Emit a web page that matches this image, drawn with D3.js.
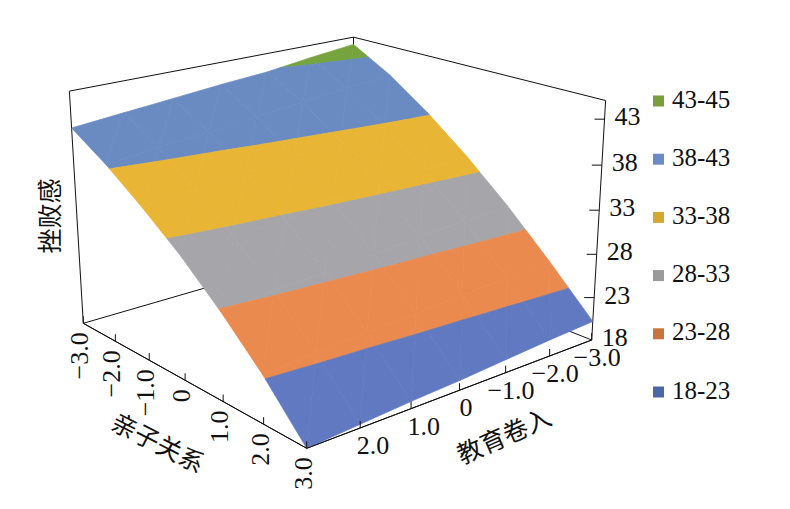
<!DOCTYPE html>
<html>
<head>
<meta charset="utf-8">
<script src="https://cdn.jsdelivr.net/npm/d3@7"></script>
<style>
  body { margin: 0; background: #fff; }
  text { font-family: "Liberation Serif", serif; fill: #111; }
  .cjk { font-family: "Noto Sans CJK SC", sans-serif; }
</style>
</head>
<body>
<script>
const width = 790;
const height = 509;

// axis values
const uTicks = [-3, -2, -1, 0, 1, 2, 3];
const vTicks = [-3, -2, -1, 0, 1, 2, 3];
const zTicks = [18, 23, 28, 33, 38, 43];

// surface values, rows follow vTicks, columns follow uTicks
const row1 = [44.1, 41.5, 38.2, 34.4, 30.1, 25.3, 20.2];
const row2 = [43.5, 41.0, 37.8, 34.0, 29.8, 25.0, 19.9];
const row3 = [42.8, 40.5, 37.3, 33.6, 29.4, 24.7, 19.5];
const row4 = [42.4, 40.0, 36.8, 33.2, 29.1, 24.4, 19.1];
const row5 = [41.9, 39.4, 36.3, 32.7, 28.7, 24.0, 18.8];
const row6 = [41.4, 38.9, 35.8, 32.3, 28.3, 23.7, 18.4];
const row7 = [40.9, 38.3, 35.2, 31.8, 27.8, 23.3, 18.0];
const surface = [row1, row2, row3, row4, row5, row6, row7];

// bands, top of the legend first
const bandLabels = ['43-45', '38-43', '33-38', '28-33', '23-28', '18-23'];
const bandLow = [43, 38, 33, 28, 23, 18];
const bandHigh = [45, 43, 38, 33, 28, 23];
const bandColors = ['#76a33e', '#6a8ac2', '#e8b535', '#a6a5a9', '#ea8a4f', '#6079c0'];
const legendColors = ['#7a9e3a', '#6a8bc6', '#d6a72f', '#9b9b9b', '#c9743a', '#4c68ad'];

// data to unit cube
const uScale = d3.scaleLinear().domain([3, -3]).range([0, 1]);
const vScale = d3.scaleLinear().domain([3, -3]).range([0, 1]);
const zScale = d3.scaleLinear().domain([18, 45]).range([0, 1]);

// box corners on the page, used to set up the perspective
const F = [306.7, 448.3], L = [83.3, 323.3], R = [591.7, 340], B = [353, 245];
const TL = [69.3, 90], TR = [605.7, 101.7];

const sx = F[0] - L[0] + B[0] - R[0], sy = F[1] - L[1] + B[1] - R[1];
const dx1 = L[0] - B[0], dx2 = R[0] - B[0], dy1 = L[1] - B[1], dy2 = R[1] - B[1];
const det = dx1 * dy2 - dx2 * dy1;
const gx = (sx * dy2 - dx2 * sy) / det;
const gy = (dx1 * sy - sx * dy1) / det;
const gz = -0.061;

const xVec = [L[0] * (1 + gx) - F[0], L[1] * (1 + gx) - F[1]];
const yVec = [R[0] * (1 + gy) - F[0], R[1] * (1 + gy) - F[1]];
const zVec = [0, 1].map(i => (
    TL[i] * (1 + gx + gz) - L[i] * (1 + gx) + TR[i] * (1 + gy + gz) - R[i] * (1 + gy)
) / 2);

function project(u, v, z) {
    const x = uScale(u), y = vScale(v), h = zScale(z);
    const w = 1 + gx * x + gy * y + gz * h;
    return [0, 1].map(i => (F[i] + x * xVec[i] + y * yVec[i] + h * zVec[i]) / w);
}

const svg = d3.select('body').append('svg')
    .attr('width', width)
    .attr('height', height);

const line = d3.line();

// Box edges behind the surface
const edges = [
    [[-3, 3, 18], [-3, 3, 45]],
    [[-3, 3, 45], [-3, -3, 45]],
    [[-3, -3, 45], [3, -3, 45]],
    [[3, -3, 45], [3, -3, 18]],
    [[-3, 3, 18], [-3, -3, 18]],
    [[3, -3, 18], [-3, -3, 18]],
    [[-3, -3, 18], [-3, -3, 45]],
    [[-3, 3, 18], [3, 3, 18]],
    [[3, 3, 18], [3, -3, 18]]
];
svg.append('g').selectAll('path')
    .data(edges)
    .enter().append('path')
    .attr('d', d => line(d.map(p => project(...p))))
    .attr('fill', 'none')
    .attr('stroke', '#111')
    .attr('stroke-width', 1);

// Keep only the part of a polygon on one side of a height
function clipAt(poly, level, sign) {
    const out = [];
    poly.forEach((p, i) => {
        const q = poly[(i + 1) % poly.length];
        const pIn = sign * (p[2] - level) >= 0;
        const qIn = sign * (q[2] - level) >= 0;
        if (pIn) out.push(p);
        if (pIn !== qIn) {
            const t = (level - p[2]) / (q[2] - p[2]);
            out.push([p[0] + t * (q[0] - p[0]), p[1] + t * (q[1] - p[1]), level]);
        }
    });
    return out;
}

// Surface cells cut into colour bands
const surfaceGroup = svg.append('g');
bandLabels.forEach((label, b) => {
    const pieces = [];
    d3.range(vTicks.length - 1).forEach(r => {
        d3.range(uTicks.length - 1).forEach(c => {
            const p00 = [uTicks[c], vTicks[r], surface[r][c]];
            const p10 = [uTicks[c + 1], vTicks[r], surface[r][c + 1]];
            const p01 = [uTicks[c], vTicks[r + 1], surface[r + 1][c]];
            const p11 = [uTicks[c + 1], vTicks[r + 1], surface[r + 1][c + 1]];
            [[p00, p10, p11], [p00, p11, p01]].forEach(tri => {
                const cut = clipAt(clipAt(tri, bandLow[b], 1), bandHigh[b], -1);
                if (cut.length > 2) pieces.push(cut);
            });
        });
    });
    surfaceGroup.append('g').selectAll('path')
        .data(pieces)
        .enter().append('path')
        .attr('d', d => line(d.map(p => project(...p))) + 'Z')
        .attr('fill', bandColors[b])
        .attr('stroke', bandColors[b])
        .attr('stroke-width', 0.7)
        .attr('stroke-linejoin', 'round');
});

// Front edges again, over the surface
svg.append('g').selectAll('path')
    .data(edges.slice(7))
    .enter().append('path')
    .attr('d', d => line(d.map(p => project(...p))))
    .attr('fill', 'none')
    .attr('stroke', '#111')
    .attr('stroke-width', 1);

const tickFormat = d => (d === 0 ? '0' : d3.format('.1f')(d).replace('-', '\u2212'));

// 亲子关系 axis
const uAxis = svg.append('g');
uTicks.forEach(d => {
    const [x, y] = project(d, 3, 18);
    uAxis.append('line')
        .attr('x1', x).attr('x2', x)
        .attr('y1', y).attr('y2', y - 7)
        .attr('stroke', '#111');
    uAxis.append('text')
        .attr('transform', `translate(${x + 5},${y + 9}) rotate(-90)`)
        .attr('text-anchor', 'end')
        .attr('font-size', '26px')
        .text(tickFormat(d));
});

// 教育卷入 axis
const vAxis = svg.append('g');
vTicks.filter(d => d < 3).forEach(d => {
    const [x, y] = project(3, d, 18);
    vAxis.append('line')
        .attr('x1', x).attr('x2', x)
        .attr('y1', y).attr('y2', y - 7)
        .attr('stroke', '#111');
    vAxis.append('text')
        .attr('x', x + (d === 0 ? 13 : 29))
        .attr('y', y + 26)
        .attr('text-anchor', 'end')
        .attr('font-size', '26px')
        .text(tickFormat(d));
});

// 挫败感 axis
const zAxis = svg.append('g');
zTicks.forEach(d => {
    const [x, y] = project(3, -3, d);
    if (d > 18) {
        zAxis.append('line')
            .attr('x1', x - 10).attr('x2', x)
            .attr('y1', y).attr('y2', y)
            .attr('stroke', '#111');
    }
    zAxis.append('text')
        .attr('x', x + 10)
        .attr('y', y + 6)
        .attr('font-size', '26px')
        .text(d);
});

// Axis titles
svg.append('text')
    .attr('class', 'cjk')
    .attr('transform', 'translate(157,445) rotate(27)')
    .attr('text-anchor', 'middle')
    .attr('dominant-baseline', 'middle')
    .attr('font-size', '25px')
    .text('亲子关系');

svg.append('text')
    .attr('class', 'cjk')
    .attr('transform', 'translate(505,438) rotate(-24)')
    .attr('text-anchor', 'middle')
    .attr('dominant-baseline', 'middle')
    .attr('font-size', '25px')
    .text('教育卷入');

svg.append('text')
    .attr('class', 'cjk')
    .attr('transform', 'translate(52,216) rotate(-90)')
    .attr('text-anchor', 'middle')
    .attr('dominant-baseline', 'middle')
    .attr('font-size', '25px')
    .text('挫败感');

// Legend
const legendY = d3.scalePoint().domain(bandLabels).range([101, 392]);
const legend = svg.append('g').selectAll('g')
    .data(bandLabels)
    .enter().append('g')
    .attr('transform', d => `translate(653,${legendY(d)})`);

legend.append('rect')
    .attr('y', -5.5)
    .attr('width', 11)
    .attr('height', 11)
    .attr('fill', (d, i) => legendColors[i]);

legend.append('text')
    .attr('x', 19)
    .attr('y', 6.5)
    .attr('font-size', '25px')
    .text(d => d);
</script>
</body>
</html>
